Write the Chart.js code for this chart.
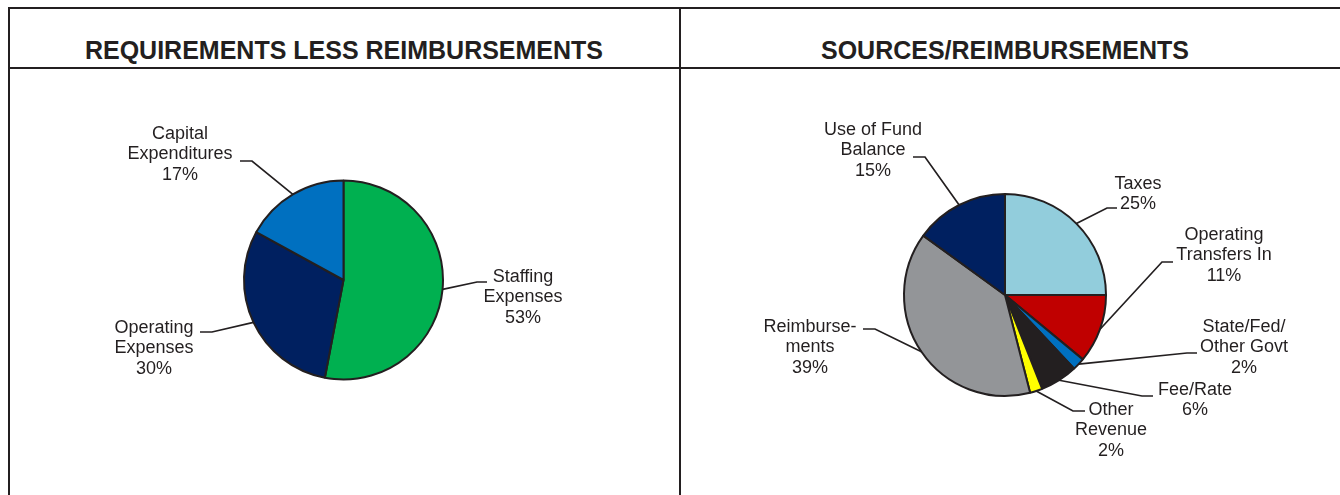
<!DOCTYPE html>
<html>
<head>
<meta charset="utf-8">
<script src="https://cdn.jsdelivr.net/npm/chart.js@4.4.1/dist/chart.umd.min.js"></script>
<style>
body{margin:0;background:#fff;width:1340px;height:495px;overflow:hidden;position:relative;font-family:"Liberation Sans",Arial,sans-serif;color:#231f20}
.ln{position:absolute;background:#231f20}
.ttl{position:absolute;top:36px;width:640px;margin-left:-320px;text-align:center;font-weight:bold;font-size:25px;line-height:28px;color:#231f20}
canvas{position:absolute}
</style>
</head>
<body>
<div class="ln" style="left:8px;top:7px;width:1332px;height:2px"></div>
<div class="ln" style="left:8px;top:67px;width:1332px;height:2px"></div>
<div class="ln" style="left:8px;top:7px;width:2px;height:488px"></div>
<div class="ln" style="left:679px;top:7px;width:2px;height:488px"></div>
<div class="ttl" style="left:344px">REQUIREMENTS LESS REIMBURSEMENTS</div>
<div class="ttl" style="left:1005px">SOURCES/REIMBURSEMENTS</div>
<canvas id="ch-req" width="669" height="426" style="left:10px;top:69px"></canvas>
<canvas id="ch-src" width="659" height="426" style="left:681px;top:69px"></canvas>
<script>
/* data */
const reqLabels=['Staffing Expenses','Operating Expenses','Capital Expenditures'];
const reqValues=[53,30,17];
const reqColors=['#00b050','#002060','#0070c0'];
const reqLines=[['Staffing','Expenses'],['Operating','Expenses'],['Capital','Expenditures']];

const srcLabels=['Taxes','Operating Transfers In','State/Fed/Other Govt','Fee/Rate','Other Revenue','Reimbursements','Use of Fund Balance'];
const srcValues=[25,11,2,6,2,39,15];
const srcColors=['#92cddc','#c00000','#0070c0','#231f20','#ffff00','#939598','#002060'];
const srcLines=[['Taxes'],['Operating','Transfers In'],['State/Fed/','Other Govt'],['Fee/Rate'],['Other','Revenue'],['Reimburse-','ments'],['Use of Fund','Balance']];

/* label placement, page coords: text centre x, first line y, elbow, end of the short flat bit */
const reqPlace=[
    {cx:523,ty:277,ex:477,ey:282,hx:487,hy:282},
    {cx:154,ty:328,ex:212,ey:332,hx:200,hy:332},
    {cx:180,ty:134,ex:252,ey:161,hx:240,hy:161}
];
const srcPlace=[
    {cx:1138,ty:184,ex:1107,ey:208,hx:1117,hy:208},
    {cx:1224,ty:235,ex:1162,ey:262,hx:1173,hy:262},
    {cx:1244,ty:327,ex:1187,ey:353,hx:1197,hy:353},
    {cx:1195,ty:390,ex:1142,ey:396,hx:1153,hy:396},
    {cx:1111,ty:410,ex:1073,ey:411,hx:1085,hy:411},
    {cx:810,ty:327,ex:875,ey:329,hx:863,hy:329},
    {cx:873,ty:130,ex:925,ey:157,hx:913,hy:157}
];

const callouts={
    id:'callouts',
    afterDraw(chart,args,o){
        const ctx=chart.ctx;
        const vals=chart.data.datasets[0].data;
        const total=vals.reduce((s,v)=>s+v,0);
        ctx.save();
        ctx.strokeStyle='#231f20'; ctx.lineWidth=1.7;
        ctx.fillStyle='#231f20';
        ctx.font='18px "Liberation Sans", Arial, sans-serif';
        ctx.textAlign='center'; ctx.textBaseline='middle';
        chart.getDatasetMeta(0).data.forEach((arc,i)=>{
            const p=arc.getProps(['x','y','startAngle','endAngle','outerRadius'],true);
            const mid=(p.startAngle+p.endAngle)/2;
            const L=o.place[i];
            ctx.beginPath();
            ctx.moveTo(p.x+Math.cos(mid)*p.outerRadius,p.y+Math.sin(mid)*p.outerRadius);
            ctx.lineTo(L.ex-o.ox,L.ey-o.oy);
            ctx.lineTo(L.hx-o.ox,L.hy-o.oy);
            ctx.stroke();
            const lines=o.lines[i].concat([Math.round(vals[i]/total*100)+'%']);
            lines.forEach((t,k)=>ctx.fillText(t,L.cx-o.ox,L.ty-o.oy+k*20.5));
        });
        ctx.restore();
    }
};

function pie(id,labels,values,colors,lines,place,ox,oy,pad){
    return new Chart(document.getElementById(id).getContext('2d'),{
        type:'pie',
        data:{labels,datasets:[{data:values,backgroundColor:colors,borderColor:'#231f20',borderWidth:2}]},
        options:{
            responsive:false,animation:false,
            layout:{padding:pad},
            plugins:{legend:{display:false},tooltip:{enabled:false},callouts:{place,lines,ox,oy}}
        },
        plugins:[callouts]
    });
}

pie('ch-req',reqLabels,reqValues,reqColors,reqLines,reqPlace,10,69,{left:233,right:235,top:110,bottom:114});
pie('ch-src',srcLabels,srcValues,srcColors,srcLines,srcPlace,681,69,{left:222,right:233,top:124,bottom:98});
</script>
</body>
</html>
